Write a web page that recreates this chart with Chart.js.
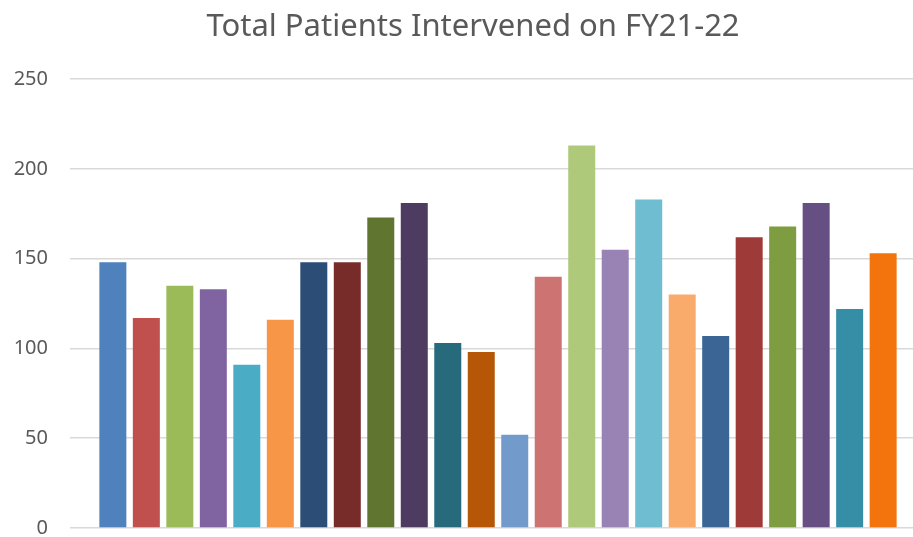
<!DOCTYPE html>
<html>
<head>
<meta charset="utf-8">
<script src="https://cdn.jsdelivr.net/npm/chart.js@4/dist/chart.umd.min.js"></script>
<style>
  html, body { margin: 0; padding: 0; background: #fff; overflow: hidden; }
  /* plot area runs a bit past the right edge of the window, as in the cropped original */
  #wrap { position: relative; width: 946px; height: 537px; }
</style>
</head>
<body>
<div id="wrap"><canvas id="chart"></canvas></div>
<script>
// one series per bar, like the original sheet (vary colours by series)
var barNames = [
  'Bar 1', 'Bar 2', 'Bar 3', 'Bar 4', 'Bar 5', 'Bar 6',
  'Bar 7', 'Bar 8', 'Bar 9', 'Bar 10', 'Bar 11', 'Bar 12',
  'Bar 13', 'Bar 14', 'Bar 15', 'Bar 16', 'Bar 17', 'Bar 18',
  'Bar 19', 'Bar 20', 'Bar 21', 'Bar 22', 'Bar 23', 'Bar 24'
];
var patients = [
  148, 117, 135, 133, 91, 116,
  148, 148, 173, 181, 103, 98,
  52, 140, 213, 155, 183, 130,
  107, 162, 168, 181, 122, 153
];
var barColors = [
  '#4F81BD', '#C0504D', '#9BBB59', '#8064A2', '#4BACC6', '#F79646',
  '#2C4D75', '#772C2A', '#5F7530', '#4D3B62', '#276A7C', '#B65708',
  '#729ACA', '#CD7371', '#AFC97A', '#9983B5', '#6FBDD1', '#F9AB6B',
  '#3A6595', '#9E3B38', '#7E9D40', '#664F83', '#358EA6', '#F3740C'
];
var yTicks = [0, 50, 100, 150, 200, 250];

var datasets = [];
for (var i = 0; i < patients.length; i++) {
  datasets.push({
    label: barNames[i],
    data: [patients[i]],
    backgroundColor: barColors[i],
    borderWidth: 0,
    categoryPercentage: 0.939,
    barPercentage: 0.806
  });
}

var chart = new Chart(document.getElementById('chart'), {
  type: 'bar',
  data: {
    labels: [''],
    datasets: datasets
  },
  options: {
    responsive: true,
    maintainAspectRatio: false,
    animation: false,
    layout: { padding: { left: 0, right: 0, top: 0, bottom: 9 } },
    plugins: {
      legend: { display: false },
      tooltip: { enabled: false },
      title: {
        display: true,
        text: 'Total Patients Intervened on FY21-22',
        color: '#595959',
        font: { family: 'Noto Sans', size: 31, weight: 'normal' },
        padding: { top: 9, bottom: 33 }
      }
    },
    scales: {
      x: { display: false },
      y: {
        min: 0,
        max: 250,
        afterBuildTicks: function (s) { s.ticks = yTicks.map(function (v) { return { value: v }; }); },
        afterFit: function (s) { s.width = 70; },
        border: { display: false },
        // invisible tick marks give the gap between labels and plot
        grid: { color: '#D9D9D9', lineWidth: 1.5, drawTicks: true, tickLength: 22, tickColor: 'rgba(0,0,0,0)' },
        ticks: {
          color: '#595959',
          padding: 0,
          font: { family: 'Noto Sans', size: 20, lineHeight: 0.8 }
        }
      },
      // empty strip on the right so the title centres on the whole chart
      yRight: {
        position: 'right',
        afterFit: function (s) { s.width = 20; },
        border: { display: false },
        grid: { display: false, drawTicks: false },
        ticks: { display: false }
      }
    }
  }
});
</script>
</body>
</html>
